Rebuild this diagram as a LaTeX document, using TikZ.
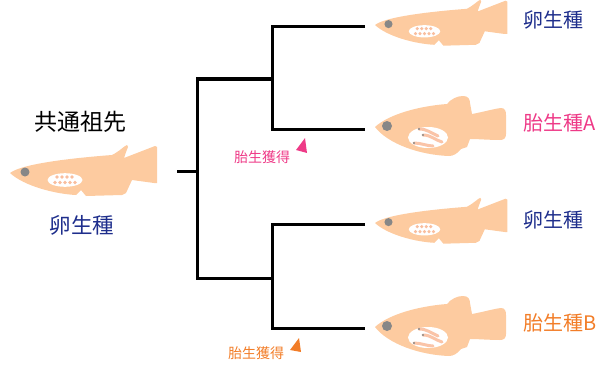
\documentclass[tikz,border=0pt]{standalone}
\usepackage{fontspec}
\setmainfont{Noto Sans CJK JP}
\usetikzlibrary{positioning}

\definecolor{fishbody}{RGB}{253,203,160}
\definecolor{fisheye}{RGB}{135,135,135}
\definecolor{eggdot}{RGB}{249,190,158}
\definecolor{embryo}{RGB}{250,196,168}
\definecolor{ovicol}{RGB}{30,46,140}
\definecolor{vivia}{RGB}{238,58,135}
\definecolor{vivib}{RGB}{242,125,40}

\tikzset{
  ovifish/.pic={
    \fill[fishbody] (0,0) .. controls (10,-8) and (50,-14) .. (102,-18)
      .. controls (110,-22) and (114,-27) .. (117,-28) -- (118,-26)
      .. controls (116,-21) and (115,-18) .. (114,-15)
      -- (145,-27) -- (147,-26) -- (147,10) -- (144,10)
      -- (122,7) -- (116,20) -- (112,22) -- (76,23) -- (71,17) -- (66,22)
      .. controls (45,21) and (14,13) .. (0,0) -- cycle;
    \fill[fisheye] (15,-1) circle[radius=4.5];
    \fill[white] (55,7) ellipse[x radius=17.5, y radius=6.8];
    \foreach \x in {47,52,57,62}
      \fill[eggdot] (\x,4) circle[radius=1.9];
    \foreach \x in {45,50,55,60,65}
      \fill[eggdot] (\x,9.5) circle[radius=1.9];
  },
  vivifish/.pic={
    \fill[fishbody] (0,0) .. controls (14,-13) and (45,-21) .. (72,-23)
      .. controls (76,-28) and (82,-31) .. (88,-31)
      .. controls (93,-31) and (95,-28) .. (95,-24) -- (97,-13)
      .. controls (108,-15) and (118,-18) .. (126,-19)
      .. controls (130,-19) and (131,-16) .. (131,-12) -- (131,7)
      .. controls (131,11) and (129,13) .. (125,13)
      .. controls (115,13) and (103,12) .. (95,12)
      -- (92,20) -- (86,22)
      .. controls (82,27) and (78,29) .. (74,29)
      .. controls (45,28) and (13,17) .. (0,0) -- cycle;
    \fill[fisheye] (12,-1) circle[radius=5];
    \fill[white] (53,10.5) ellipse[x radius=20, y radius=10.5];
    \draw[embryo, line width=3pt, line cap=round] (44,2) .. controls (52,2) and (56,6) .. (63,9);
    \draw[embryo, line width=3pt, line cap=round] (48,8) .. controls (56,8) and (60,13) .. (67,15);
    \draw[embryo, line width=3pt, line cap=round] (39,16) .. controls (46,16) and (52,19) .. (58,19);
    \fill[fisheye] (44,2) circle[radius=1.1] (48,8) circle[radius=1.1] (39,16) circle[radius=1.1];
  }
}

\begin{document}
\begin{tikzpicture}[x=1pt, y=-1pt,
    branch/.style={line width=3pt},
    spec/.style={font=\fontsize{20}{20}\selectfont, inner sep=0pt},
    gain/.style={font=\fontsize{14}{14}\selectfont, inner sep=0pt}]
    \useasboundingbox (0,0) rectangle (613,369);

    \pic (anc) at (10,173) {ovifish};
    \pic (f1) at (375,25) [scale=0.9] {ovifish};
    \pic (f2) at (375,127) {vivifish};
    \pic (f3) at (375,223) [scale=0.9] {ovifish};
    \pic (f4) at (375,327) {vivifish};

    \node[spec, font=\fontsize{23}{23}\selectfont] (anclab) at (80,122) {共通祖先};
    \node[spec, text=ovicol, font=\fontsize{21.5}{22}\selectfont] (ancsp) at (82,225) {卵生種};
    \node[spec, text=ovicol] (sp1) at (553,20) {卵生種};
    \node[spec, text=vivia] (sp2) at (560,123) {胎生種A};
    \node[spec, text=ovicol] (sp3) at (553,220) {卵生種};
    \node[spec, text=vivib] (sp4) at (560,323) {胎生種B};

    \coordinate (root) at (177,171);
    \coordinate (n0) at (197,171);
    \coordinate (n1) at (272,79);
    \coordinate (n2) at (272,278);
    \coordinate (l1) at (365,27);
    \coordinate (l2) at (365,129);
    \coordinate (l3) at (365,224);
    \coordinate (l4) at (365,328);

    \draw[branch] (root) -- (n0);
    \draw[branch] (n1) -| (n0) |- (n2);
    \draw[branch] (l1) -| (n1) |- (l2);
    \draw[branch] (l3) -| (n2) |- (l4);

    \node[gain, text=vivia] (gaina) at (262,157) {胎生獲得};
    \node[gain, text=vivib] (gainb) at (256,353) {胎生獲得};
    \fill[vivia] (305,138) -- (296,150) -- (307,153) -- cycle;
    \fill[vivib] (299,338) -- (290,350) -- (301,352) -- cycle;
\end{tikzpicture}
\end{document}
